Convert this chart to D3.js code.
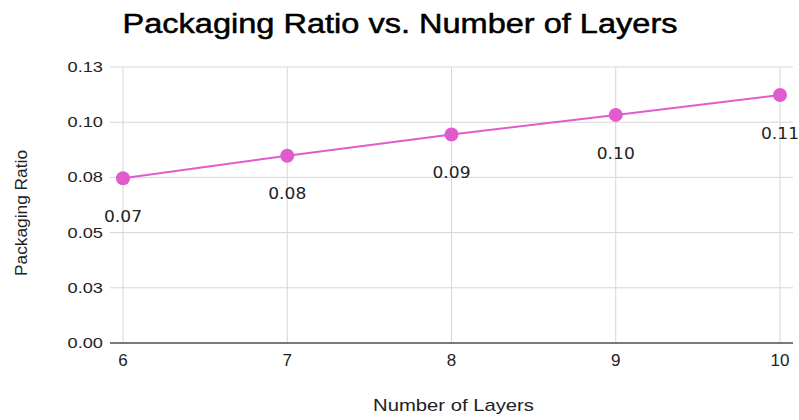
<!DOCTYPE html>
<html>
<head>
<meta charset="utf-8">
<script src="https://cdn.jsdelivr.net/npm/d3@7"></script>
<style>
  html, body { margin: 0; padding: 0; background: #fff; }
  svg { display: block; }
</style>
</head>
<body>
<svg id="chart" width="799" height="420"></svg>
<script>
// Packaging ratio measured for each layer count
const layers = [6, 7, 8, 9, 10];
const packagingRatio = [0.0746, 0.0848, 0.0944, 0.1033, 0.1123];
const yTicks = [0, 0.025, 0.05, 0.075, 0.1, 0.125];
const yTickLabels = ["0.00", "0.03", "0.05", "0.08", "0.10", "0.13"];
const xTicks = [6, 7, 8, 9, 10];

const W = 799, H = 420;
const margin = { left: 123, right: 19, top: 67, bottom: 77 };
const svg = d3.select("#chart");

const x = d3.scaleLinear().domain([6, 10]).range([margin.left, W - margin.right]);
const y = d3.scaleLinear().domain([0, 0.125]).range([H - margin.bottom, margin.top]);

const lineColor = "#e05ccd";
const gridColor = "#d6d6d6";
const sans = "Liberation Sans, Arial, sans-serif";

// Text in this chart is set a little wider than the font's natural width
function widen(sel, factor) {
  sel.each(function () {
    const w = this.getComputedTextLength();
    d3.select(this)
      .attr("textLength", w * factor)
      .attr("lengthAdjust", "spacingAndGlyphs");
  });
}

// Horizontal gridlines (extend left as tick marks)
svg.append("g")
  .selectAll("line")
  .data(yTicks)
  .join("line")
  .attr("x1", margin.left - 13)
  .attr("x2", W - 6)
  .attr("y1", d => y(d))
  .attr("y2", d => y(d))
  .attr("stroke", gridColor)
  .attr("stroke-width", 1);

// Vertical gridlines
svg.append("g")
  .selectAll("line")
  .data(xTicks)
  .join("line")
  .attr("x1", d => x(d))
  .attr("x2", d => x(d))
  .attr("y1", y(0.125))
  .attr("y2", y(0))
  .attr("stroke", gridColor)
  .attr("stroke-width", 1);

// Baseline
svg.append("line")
  .attr("x1", margin.left - 13)
  .attr("x2", W - 6)
  .attr("y1", y(0))
  .attr("y2", y(0))
  .attr("stroke", "#555")
  .attr("stroke-width", 1.3);

// Y tick labels
svg.append("g")
  .selectAll("text")
  .data(yTicks)
  .join("text")
  .attr("x", margin.left - 20)
  .attr("y", d => y(d))
  .attr("dy", "0.35em")
  .attr("text-anchor", "end")
  .attr("font-family", sans)
  .attr("font-size", 14)
  .attr("fill", "#222")
  .text((d, i) => yTickLabels[i])
  .call(widen, 1.3);

// X tick labels
svg.append("g")
  .selectAll("text")
  .data(xTicks)
  .join("text")
  .attr("x", d => x(d))
  .attr("y", y(0) + 17)
  .attr("dy", "0.35em")
  .attr("text-anchor", "middle")
  .attr("font-family", sans)
  .attr("font-size", 17)
  .attr("fill", "#222")
  .text(d => d);

// Title
svg.append("text")
  .attr("x", 400)
  .attr("y", 24)
  .attr("dy", "0.35em")
  .attr("text-anchor", "middle")
  .attr("font-family", sans)
  .attr("font-size", 27)
  .attr("fill", "#000")
  .attr("stroke", "#000")
  .attr("stroke-width", 0.5)
  .text("Packaging Ratio vs. Number of Layers")
  .attr("textLength", 555)
  .attr("lengthAdjust", "spacingAndGlyphs");

// Axis titles
svg.append("text")
  .attr("x", (x(6) + x(10)) / 2 + 2)
  .attr("y", 405)
  .attr("dy", "0.35em")
  .attr("text-anchor", "middle")
  .attr("font-family", sans)
  .attr("font-size", 17)
  .attr("fill", "#222")
  .text("Number of Layers")
  .attr("textLength", 161)
  .attr("lengthAdjust", "spacingAndGlyphs");

svg.append("text")
  .attr("transform", `translate(21, 213) rotate(-90)`)
  .attr("dy", "0.35em")
  .attr("text-anchor", "middle")
  .attr("font-family", sans)
  .attr("font-size", 16)
  .attr("fill", "#222")
  .text("Packaging Ratio")
  .attr("textLength", 126)
  .attr("lengthAdjust", "spacingAndGlyphs");

// Series line
const pts = layers.map((l, i) => ({ l, v: packagingRatio[i] }));
svg.append("path")
  .datum(pts)
  .attr("fill", "none")
  .attr("stroke", lineColor)
  .attr("stroke-width", 2)
  .attr("d", d3.line().x(d => x(d.l)).y(d => y(d.v)));

// Points
svg.append("g")
  .selectAll("circle")
  .data(pts)
  .join("circle")
  .attr("cx", d => x(d.l))
  .attr("cy", d => y(d.v))
  .attr("r", 7)
  .attr("fill", lineColor);

// Value labels
svg.append("g")
  .selectAll("text")
  .data(pts)
  .join("text")
  .attr("x", d => x(d.l))
  .attr("y", d => y(d.v) + 38)
  .attr("dy", "0.35em")
  .attr("text-anchor", "middle")
  .attr("font-family", "DejaVu Sans, sans-serif")
  .attr("font-size", 16)
  .attr("fill", "#222")
  .text(d => d.v.toFixed(2))
  .attr("textLength", 38)
  .attr("lengthAdjust", "spacingAndGlyphs");
</script>
</body>
</html>
